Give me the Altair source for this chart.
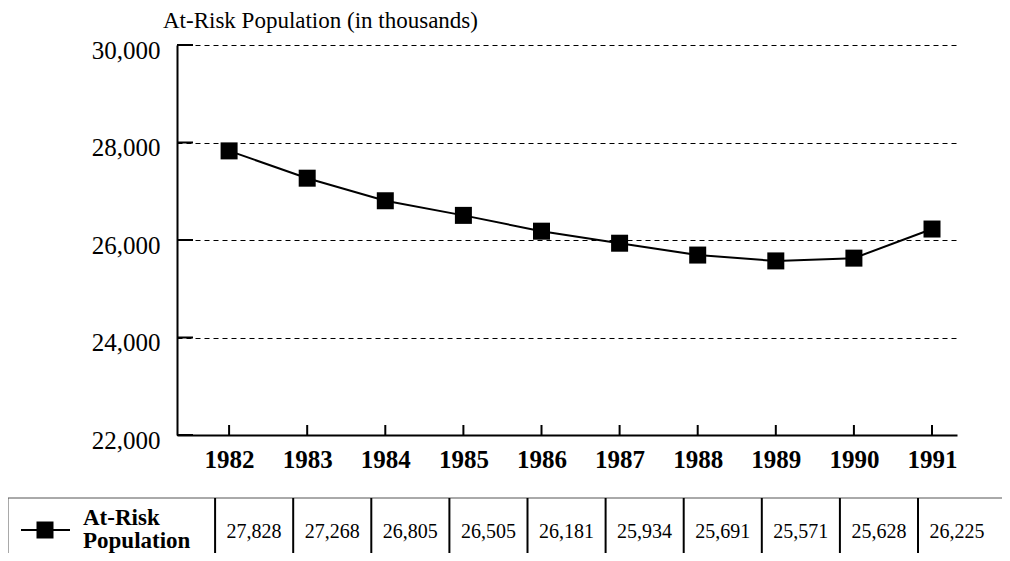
import altair as alt
import pandas as pd

years = [1982, 1983, 1984, 1985, 1986, 1987, 1988, 1989, 1990, 1991]
values = [27828, 27268, 26805, 26505, 26181, 25934, 25691, 25571, 25628, 26225]
y_ticks = [22000, 24000, 26000, 28000, 30000]
series_label = "At-Risk\nPopulation"
title_text = "At-Risk Population (in thousands)"

FONT = "Liberation Serif"
W, H = 780, 390

df = pd.DataFrame({"year": years, "value": values})
ticks_df = pd.DataFrame({"value": y_ticks})
one = pd.DataFrame({"a": [0]})

xs = alt.Scale(domain=[1981.333, 1991.32], nice=False, zero=False)
ys = alt.Scale(domain=[22000, 30000], nice=False, zero=False)
xaxis = alt.Axis(values=years, format="d", grid=False, ticks=False, tickSize=0,
                 domainColor="black", domainWidth=2, labelFont=FONT,
                 labelFontSize=25, labelFontWeight="bold", labelColor="black",
                 labelPadding=12, title=None)
yaxis = alt.Axis(values=y_ticks, format=",.0f", grid=True, gridDash=[5, 4],
                 gridColor="black", gridWidth=1, gridOpacity=1, ticks=False,
                 tickSize=0, domainColor="black", domainWidth=2, labelFont=FONT,
                 labelFontSize=25, labelColor="black", labelPadding=17,
                 labelOffset=5, title=None)
X = alt.X("year:Q", scale=xs, axis=xaxis)
Y = alt.Y("value:Q", scale=ys, axis=yaxis)

line = alt.Chart(df).mark_line(color="black", strokeWidth=2).encode(x=X, y=Y)
pts = alt.Chart(df).mark_square(size=289, color="black", opacity=1).encode(x=X, y=Y)

ytick_marks = alt.Chart(ticks_df).mark_rule(color="black", strokeWidth=2).encode(
    y=Y, x=alt.value(0), x2=alt.value(16))
xtick_marks = alt.Chart(df).mark_rule(color="black", strokeWidth=2).encode(
    x=X, y=alt.value(H), y2=alt.value(H - 10))

# data table below the chart
TOP = 453
BOT = 508
ROW = 485
table_top = alt.Chart(one).mark_rule(color="#555555", strokeWidth=1).encode(
    x=alt.value(-169), x2=alt.value(828), y=alt.value(TOP))
table_left = alt.Chart(one).mark_rule(color="#555555", strokeWidth=1).encode(
    x=alt.value(-169), y=alt.value(TOP), y2=alt.value(BOT))
table_right = alt.Chart(one).mark_rule(color="#555555", strokeWidth=1).encode(
    x=alt.value(828), y=alt.value(TOP), y2=alt.value(BOT))
seps = alt.Chart(df).mark_rule(color="black", strokeWidth=2, xOffset=-14).encode(
    x=X, y=alt.value(TOP), y2=alt.value(BOT))
cells = alt.Chart(df).mark_text(font=FONT, fontSize=20, color="black",
                                xOffset=25, baseline="middle").encode(
    x=X, y=alt.value(ROW + 2), text=alt.Text("value:Q", format=",.0f"))
leg_line = alt.Chart(one).mark_rule(color="black", strokeWidth=2).encode(
    x=alt.value(-156), x2=alt.value(-107), y=alt.value(ROW))
leg_sq = alt.Chart(one).mark_square(size=289, color="black", opacity=1).encode(
    x=alt.value(-132), y=alt.value(ROW))
leg_txt = alt.Chart(pd.DataFrame({"t": [series_label]})).mark_text(
    font=FONT, fontSize=23, fontWeight="bold", color="black", align="left",
    baseline="middle", lineBreak="\n", lineHeight=23).encode(
    x=alt.value(-94), y=alt.value(ROW - 12), text="t:N")

chart = alt.layer(
    line, pts, ytick_marks, xtick_marks,
    table_top, table_left, table_right, seps, cells, leg_line, leg_sq, leg_txt,
).properties(
    width=W, height=H,
    title=alt.TitleParams(title_text, anchor="start", frame="group", dx=-14,
                          fontSize=23, fontWeight="normal", font=FONT,
                          color="black", offset=5),
    autosize=alt.AutoSizeParams(type="none"),
    padding={"left": 169, "top": 37, "right": 45, "bottom": 118},
).configure_view(stroke=None)

chart.save("out.html", embed_options={"renderer": "svg", "actions": False})
